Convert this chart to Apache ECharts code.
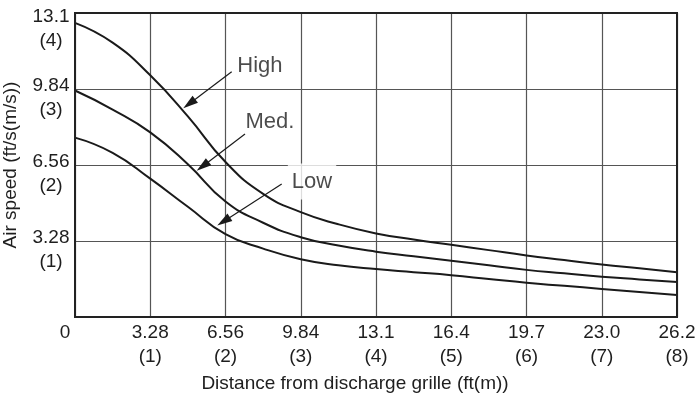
<!DOCTYPE html>
<html>
<head>
<meta charset="utf-8">
<script src="https://cdn.jsdelivr.net/npm/echarts@6/dist/echarts.min.js"></script>
<style>html,body{margin:0;padding:0;background:#fff}#c{width:698px;height:400px}</style>
</head>
<body>
<div id="c"></div>
<script>
// distance in metres
const distance = [0, 0.5, 1.0, 1.5, 2.0, 2.5, 3.0, 3.5, 4.0, 4.5, 5.0, 5.5, 6.0, 6.5, 7.0, 7.5, 8.0];
// air speed in m/s
const highSpeed = [3.87, 3.61, 3.18, 2.64, 2.04, 1.62, 1.38, 1.22, 1.10, 1.02, 0.95, 0.88, 0.81, 0.75, 0.69, 0.64, 0.59];
const medSpeed  = [2.98, 2.73, 2.43, 2.01, 1.52, 1.24, 1.05, 0.94, 0.86, 0.80, 0.74, 0.68, 0.62, 0.575, 0.53, 0.495, 0.46];
const lowSpeed  = [2.36, 2.16, 1.82, 1.45, 1.09, 0.90, 0.76, 0.68, 0.63, 0.59, 0.55, 0.50, 0.45, 0.41, 0.37, 0.33, 0.29];

// tick labels
const xTickFt = ['0', '3.28', '6.56', '9.84', '13.1', '16.4', '19.7', '23.0', '26.2'];
const xTickM  = ['', '(1)', '(2)', '(3)', '(4)', '(5)', '(6)', '(7)', '(8)'];
const yTickFt = ['', '3.28', '6.56', '9.84', '13.1'];
const yTickM  = ['', '(1)', '(2)', '(3)', '(4)'];

// annotations (data units)
const annotNames = ['High', 'Med.', 'Low'];
const annotX = [2.458, 2.591, 3.150];
const annotY = [3.303, 2.572, 1.783];
const arrowFromX = [2.082, 2.259, 2.747];
const arrowFromY = [3.228, 2.408, 1.750];
const arrowTipX = [1.439, 1.617, 1.891];
const arrowTipY = [2.746, 1.923, 1.205];

const FONT = "'Liberation Sans', Arial, sans-serif";
const TXT = '#1e1e1e';
const INK = '#1a1a1a';

function curve(vals) { return distance.map((d, i) => [d, vals[i]]); }
function lineSeries(name, vals) {
  return {
    name: name, type: 'line', data: curve(vals), smooth: 0.5, symbol: 'none', showSymbol: false,
    lineStyle: {color: INK, width: 2}, z: 3, silent: true
  };
}

const chart = echarts.init(document.getElementById('c'), null, {renderer: 'canvas'});
chart.setOption({
  animation: false,
  backgroundColor: '#fff',
  grid: {left: 75, top: 13, right: 21, bottom: 83, show: true, z: 5,
         containLabel: false, outerBoundsMode: 'none',
         borderColor: '#222', borderWidth: 2, backgroundColor: 'transparent'},
  xAxis: {
    type: 'value', min: 0, max: 8, interval: 1,
    name: 'Distance from discharge grille (ft(m))', nameLocation: 'middle', nameGap: 57,
    nameTextStyle: {fontFamily: FONT, fontSize: 19, color: TXT, padding: [0, 42, 0, 0]},
    axisLine: {show: false}, axisTick: {show: false},
    splitLine: {show: true, lineStyle: {color: '#555', width: 1.2}},
    axisLabel: {
      margin: 4, fontFamily: FONT, fontSize: 19, color: TXT,
      formatter: function (v) {
        const i = Math.round(v);
        if (i === 0) return '{z|' + xTickFt[0] + '}';
        return '{a|' + xTickFt[i] + '}\n{a|' + xTickM[i] + '}';
      },
      rich: {
        a: {fontFamily: FONT, fontSize: 19, color: TXT, lineHeight: 24, align: 'center'},
        z: {fontFamily: FONT, fontSize: 19, color: TXT, lineHeight: 24, padding: [0, 20, 0, 0]}
      }
    }
  },
  yAxis: {
    type: 'value', min: 0, max: 4, interval: 1,
    name: 'Air speed (ft/s(m/s))', nameLocation: 'middle', nameGap: 46,
    nameTextStyle: {fontFamily: FONT, fontSize: 19, color: TXT},
    axisLine: {show: false}, axisTick: {show: false},
    splitLine: {show: true, lineStyle: {color: '#555', width: 1.2}},
    axisLabel: {
      margin: 4, verticalAlign: 'middle',
      formatter: function (v) {
        const i = Math.round(v);
        if (i === 0) return '';
        const sp = (i === 4) ? '{t| }' : '{s| }';
        return sp + '\n{a|' + yTickFt[i] + '}\n{a|' + yTickM[i] + '}';
      },
      rich: {
        a: {fontFamily: FONT, fontSize: 19, color: TXT, lineHeight: 24, width: 40, align: 'center'},
        s: {fontSize: 1, lineHeight: 18},
        t: {fontSize: 1, lineHeight: 31}
      }
    }
  },
  series: [
    lineSeries('High', highSpeed),
    lineSeries('Med.', medSpeed),
    lineSeries('Low', lowSpeed),
    {
      type: 'custom', z: 4, silent: true,
      data: annotNames.map((n, i) => [arrowFromX[i], arrowFromY[i], arrowTipX[i], arrowTipY[i]]),
      encode: {x: [0, 2], y: [1, 3]},
      renderItem: function (params, api) {
        const p0 = api.coord([api.value(0), api.value(1)]);
        const p1 = api.coord([api.value(2), api.value(3)]);
        const dx = p1[0] - p0[0], dy = p1[1] - p0[1];
        const L = Math.sqrt(dx * dx + dy * dy);
        const ux = dx / L, uy = dy / L;
        const hl = 15, hw = 4.5;
        const bx = p1[0] - ux * hl, by = p1[1] - uy * hl;
        return {
          type: 'group',
          children: [
            {type: 'line', shape: {x1: p0[0], y1: p0[1], x2: bx + ux * 2, y2: by + uy * 2},
             style: {stroke: INK, lineWidth: 1.2}},
            {type: 'polygon',
             shape: {points: [[p1[0], p1[1]], [bx - uy * hw, by + ux * hw], [bx + uy * hw, by - ux * hw]]},
             style: {fill: INK}}
          ]
        };
      }
    },
    {
      type: 'scatter', symbolSize: 1, itemStyle: {color: 'rgba(0,0,0,0)'}, z: 4, silent: true,
      data: annotNames.map((n, i) => ({
        name: n, value: [annotX[i], annotY[i]],
        label: n === 'Low' ? {backgroundColor: '#fff', padding: [7, 4]} : {}
      })),
      label: {show: true, position: 'inside', formatter: '{b}', fontFamily: FONT, fontSize: 22, color: TXT}
    }
  ]
});
</script>
</body>
</html>
